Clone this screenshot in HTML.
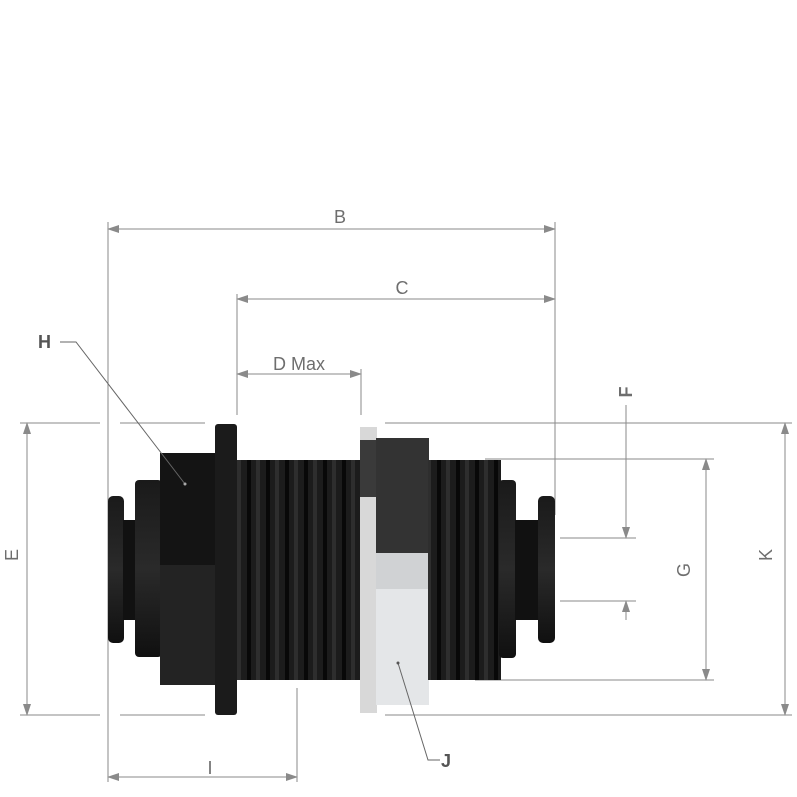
<!DOCTYPE html>
<html><head><style>html,body{margin:0;padding:0;background:#fff}svg{display:block}</style></head><body>
<svg width="797" height="797" viewBox="0 0 797 797" xmlns="http://www.w3.org/2000/svg" font-family="Liberation Sans, sans-serif">
<defs>
<marker id="a" markerWidth="12" markerHeight="8" refX="11" refY="4" orient="auto-start-reverse" markerUnits="userSpaceOnUse"><path d="M0,0 L12,4 L0,8 z" fill="#8a8a8a"/></marker>
<linearGradient id="cyl" x1="0" y1="0" x2="0" y2="1"><stop offset="0" stop-color="#1a1a1a"/><stop offset="0.5" stop-color="#2a2a2a"/><stop offset="1" stop-color="#101010"/></linearGradient>
<pattern id="thr" width="19" height="10" patternUnits="userSpaceOnUse"><rect width="19" height="10" fill="#1c1c1c"/><rect x="0" width="4" height="10" fill="#080808"/><rect x="9" width="4" height="10" fill="#2e2e2e"/></pattern>
</defs>
<g stroke="#8a8a8a" stroke-width="1" fill="none">
<!-- extension lines -->
<line x1="108" y1="222" x2="108" y2="782"/>
<line x1="555" y1="222" x2="555" y2="515"/>
<line x1="237" y1="294" x2="237" y2="415"/>
<line x1="361" y1="369" x2="361" y2="415"/>
<line x1="297" y1="688" x2="297" y2="782"/>
<line x1="20" y1="423" x2="100" y2="423"/><line x1="120" y1="423" x2="205" y2="423"/>
<line x1="20" y1="715" x2="100" y2="715"/><line x1="120" y1="715" x2="205" y2="715"/>
<line x1="385" y1="423" x2="792" y2="423"/><line x1="385" y1="715" x2="792" y2="715"/>
<line x1="485" y1="459" x2="714" y2="459"/><line x1="475" y1="680" x2="714" y2="680"/>
<line x1="560" y1="538" x2="636" y2="538"/><line x1="560" y1="601" x2="636" y2="601"/>
<!-- dims -->
<line x1="108" y1="229" x2="555" y2="229" marker-start="url(#a)" marker-end="url(#a)"/>
<line x1="237" y1="299" x2="555" y2="299" marker-start="url(#a)" marker-end="url(#a)"/>
<line x1="237" y1="374" x2="361" y2="374" marker-start="url(#a)" marker-end="url(#a)"/>
<line x1="27" y1="423" x2="27" y2="715" marker-start="url(#a)" marker-end="url(#a)"/>
<line x1="785" y1="423" x2="785" y2="715" marker-start="url(#a)" marker-end="url(#a)"/>
<line x1="706" y1="459" x2="706" y2="680" marker-start="url(#a)" marker-end="url(#a)"/>
<line x1="626" y1="405" x2="626" y2="538" marker-end="url(#a)"/>
<line x1="626" y1="620" x2="626" y2="601" marker-end="url(#a)"/>
<line x1="108" y1="777" x2="297" y2="777" marker-start="url(#a)" marker-end="url(#a)"/>
</g>
<!-- fitting -->
<rect x="108" y="496" width="16" height="147" rx="5" fill="url(#cyl)"/>
<rect x="123" y="520" width="14" height="100" fill="#111"/>
<rect x="135" y="480" width="27" height="177" rx="4" fill="url(#cyl)"/>
<rect x="160" y="453" width="56" height="112" fill="#141414"/>
<rect x="160" y="565" width="56" height="120" fill="#232323"/>
<rect x="215" y="424" width="22" height="291" rx="3" fill="#1b1b1b"/>
<rect x="237" y="460" width="124" height="220" fill="url(#thr)"/>
<rect x="360" y="427" width="17" height="286" fill="#d8d8d8"/>
<rect x="360" y="440" width="17" height="57" fill="#3a3a3a"/>
<rect x="376" y="438" width="53" height="116" fill="#333"/>
<rect x="376" y="553" width="53" height="152" fill="#e4e6e8"/>
<rect x="376" y="553" width="53" height="36" fill="#d0d2d4"/>
<rect x="428" y="460" width="73" height="220" fill="url(#thr)"/>
<rect x="499" y="480" width="17" height="178" rx="4" fill="url(#cyl)"/>
<rect x="515" y="520" width="24" height="100" fill="#111"/>
<rect x="538" y="496" width="17" height="147" rx="5" fill="url(#cyl)"/>
<!-- leaders -->
<g stroke="#666" stroke-width="1" fill="none">
<polyline points="60,342 76,342 185,484"/>
<polyline points="398,663 428,760 440,760"/>
</g>
<circle cx="185" cy="484" r="1.5" fill="#aaa"/><circle cx="398" cy="663" r="1.5" fill="#555"/>
<!-- labels -->
<g fill="#6e6e6e" font-size="18">
<text x="340" y="223" text-anchor="middle">B</text>
<text x="402" y="294" text-anchor="middle">C</text>
<text x="299" y="370" text-anchor="middle">D Max</text>
<text x="210" y="774" text-anchor="middle">I</text>
<text x="690" y="570" text-anchor="middle" transform="rotate(-90 690 570)">G</text>
<text x="772" y="555" text-anchor="middle" transform="rotate(-90 772 555)">K</text>
<text x="18" y="555" text-anchor="middle" transform="rotate(-90 18 555)">E</text>
<text x="632" y="392" text-anchor="middle" font-weight="bold" transform="rotate(-90 632 392)">F</text>
</g>
<g fill="#555" font-size="18" font-weight="bold">
<text x="38" y="348">H</text>
<text x="441" y="767">J</text>
</g>
</svg>
</body></html>
